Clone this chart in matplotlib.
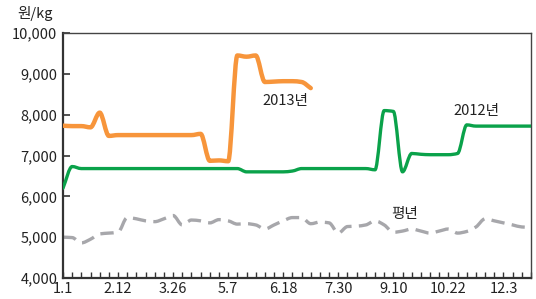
import matplotlib
matplotlib.use("Agg")
import matplotlib.pyplot as plt
import matplotlib.ticker as ticker
from matplotlib.path import Path
from matplotlib.patches import PathPatch

plt.rcParams["font.family"] = ["Noto Sans CJK KR", "DejaVu Sans"]

# weekly prices, won/kg (week 0 = 1.1)
weeks = list(range(52))
tick_labels = ["1.1", "2.12", "3.26", "5.7", "6.18", "7.30", "9.10", "10.22", "12.3"]

price_2013 = [7730, 7720, 7720, 7690, 8050, 7480, 7500, 7500, 7500, 7500,
              7500, 7500, 7500, 7500, 7500, 7530, 6870, 6880, 6860, 9450,
              9420, 9450, 8800, 8810, 8820, 8820, 8800, 8650]

price_2012 = [6200, 6730, 6680, 6680, 6680, 6680, 6680, 6680, 6680, 6680,
              6680, 6680, 6680, 6680, 6680, 6680, 6680, 6680, 6680, 6680,
              6600, 6600, 6600, 6600, 6600, 6620, 6680, 6680, 6680, 6680,
              6680, 6680, 6680, 6680, 6650, 8100, 8080, 6600, 7050, 7030,
              7020, 7020, 7020, 7050, 7750, 7720, 7720, 7720, 7720, 7720,
              7720, 7720]

price_avg = [5000, 4990, 4860, 4950, 5080, 5100, 5120, 5480, 5450, 5400,
             5380, 5450, 5530, 5300, 5420, 5400, 5350, 5430, 5400, 5320,
             5330, 5300, 5200, 5300, 5400, 5480, 5480, 5330, 5370, 5350,
             5100, 5260, 5270, 5300, 5400, 5300, 5120, 5150, 5200, 5150,
             5100, 5150, 5200, 5100, 5140, 5250, 5450, 5400, 5350, 5300,
             5250, 5240]


def smooth_path(xs, ys):
    # monotone cubic through the weekly points, drawn as Bezier segments
    n = len(xs)
    d = [(ys[i + 1] - ys[i]) / (xs[i + 1] - xs[i]) for i in range(n - 1)]
    m = [d[0]] + [0.0] * (n - 2) + [d[-1]]
    for i in range(1, n - 1):
        if d[i - 1] * d[i] > 0:
            m[i] = 2 / (1 / d[i - 1] + 1 / d[i])
    verts = [(xs[0], ys[0])]
    codes = [Path.MOVETO]
    for i in range(n - 1):
        h = (xs[i + 1] - xs[i]) / 3
        verts += [(xs[i] + h, ys[i] + m[i] * h),
                  (xs[i + 1] - h, ys[i + 1] - m[i + 1] * h),
                  (xs[i + 1], ys[i + 1])]
        codes += [Path.CURVE4] * 3
    return Path(verts, codes)


fig = plt.figure(figsize=(5.36, 2.99), dpi=100)
ax = fig.add_axes([0.1175, 0.0702, 0.8732, 0.8194])

ax.add_patch(PathPatch(smooth_path(weeks, price_avg), fill=False,
                       edgecolor="#a7a7ab", linewidth=2.4,
                       linestyle=(0, (4, 2.2)), zorder=2))
ax.add_patch(PathPatch(smooth_path(weeks, price_2012), fill=False,
                       edgecolor="#0aa24a", linewidth=2.4,
                       joinstyle="round", capstyle="round", zorder=3))
ax.add_patch(PathPatch(smooth_path(weeks[:len(price_2013)], price_2013), fill=False,
                       edgecolor="#f7953b", linewidth=3.2,
                       joinstyle="round", capstyle="round", zorder=4))

ax.set_xlim(0, 51)
ax.set_ylim(4000, 10000)
ax.yaxis.set_major_locator(ticker.MultipleLocator(1000))
ax.yaxis.set_major_formatter(ticker.StrMethodFormatter("{x:,.0f}"))
ax.set_xticks(weeks, minor=True)
ax.set_xticks(range(0, 52, 6))
ax.set_xticklabels(tick_labels)

ax.tick_params(axis="both", which="both", direction="in", colors="#333333",
               labelcolor="#222222", labelsize=10.5)
ax.tick_params(axis="y", length=5, width=1.2, pad=4)
ax.tick_params(axis="x", which="both", length=4, width=1, pad=3)

for side in ("left", "bottom"):
    ax.spines[side].set_linewidth(1.6)
    ax.spines[side].set_color("#333333")
for side in ("top", "right"):
    ax.spines[side].set_linewidth(1.0)
    ax.spines[side].set_color("#444444")

ax.text(24.2, 8330, "2013년", fontsize=10.5, color="#222222", ha="center", va="center")
ax.text(45.0, 8090, "2012년", fontsize=10.5, color="#222222", ha="center", va="center")
ax.text(37.2, 5560, "평년", fontsize=10.5, color="#222222", ha="center", va="center")
fig.text(0.065, 0.955, "원/kg", fontsize=10.5, color="#222222", ha="center", va="center")

fig.savefig("out.png", dpi=100)
